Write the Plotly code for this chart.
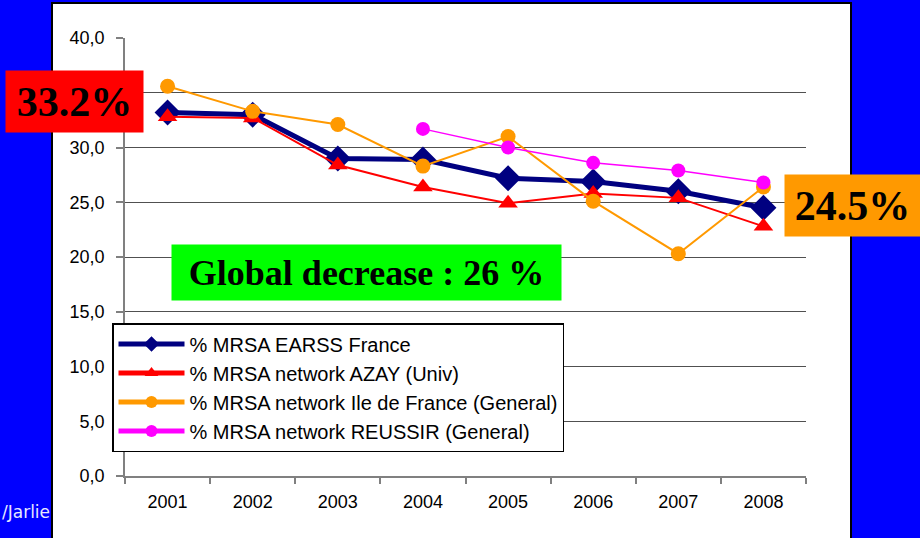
import plotly.graph_objects as go

years = ["2001", "2002", "2003", "2004", "2005", "2006", "2007", "2008"]
earss = [33.2, 33.0, 29.0, 28.9, 27.2, 26.9, 26.0, 24.5]
azay = [32.8, 32.7, 28.4, 26.4, 24.9, 25.8, 25.4, 22.8]
idf = [35.6, 33.3, 32.1, 28.3, 31.0, 25.1, 20.3, 26.4]
reussir = [None, None, None, 31.7, 30.0, 28.6, 27.9, 26.8]
ytick_vals = [0, 5, 10, 15, 20, 25, 30, 35, 40]
ytick_text = ["0,0", "5,0", "10,0", "15,0", "20,0", "25,0", "30,0", "35,0", "40,0"]

names = ["% MRSA EARSS France", "% MRSA network AZAY (Univ)",
         "% MRSA network Ile de France (General)", "% MRSA network REUSSIR (General)"]

W, H = 920, 538
L, R, T, B = 125, 806, 38, 476


def px(x):
    return (x - L) / (R - L)


def py(y):
    return 1 - (y - T) / (B - T)


fig = go.Figure()
fig.add_trace(go.Scatter(x=years, y=earss, name=names[0], mode="lines+markers",
                         line=dict(color="#000080", width=5),
                         marker=dict(symbol="diamond", size=20, color="#000080")))
fig.add_trace(go.Scatter(x=years, y=azay, name=names[1], mode="lines+markers",
                         line=dict(color="#FF0000", width=2),
                         marker=dict(symbol="triangle-up", size=17, color="#FF0000")))
fig.add_trace(go.Scatter(x=years, y=idf, name=names[2], mode="lines+markers",
                         line=dict(color="#FF9900", width=2),
                         marker=dict(symbol="circle", size=15, color="#FF9900")))
fig.add_trace(go.Scatter(x=years, y=reussir, name=names[3], mode="lines+markers",
                         line=dict(color="#FF00FF", width=1.5),
                         marker=dict(symbol="circle", size=14, color="#FF00FF")))

# white panel
fig.add_shape(type="rect", xref="paper", yref="paper",
              x0=px(52), x1=px(851), y0=py(545), y1=py(3),
              fillcolor="white", line=dict(color="black", width=2), layer="below")

fig.add_annotation(xref="paper", yref="paper", x=px(74.5), y=py(101.5),
                   xanchor="center", yanchor="middle", showarrow=False,
                   text="<b>33.2%</b>", width=137, height=61, borderpad=0,
                   bgcolor="#FF0000",
                   font=dict(family="Liberation Serif", size=42, color="black"))
fig.add_annotation(xref="paper", yref="paper", x=px(852.5), y=py(205.5),
                   xanchor="center", yanchor="middle", showarrow=False,
                   text="<b>24.5%</b>", width=135, height=61, borderpad=0,
                   bgcolor="#FF9900",
                   font=dict(family="Liberation Serif", size=42, color="black"))
fig.add_annotation(xref="paper", yref="paper", x=px(366.5), y=py(272.5),
                   xanchor="center", yanchor="middle", showarrow=False,
                   text="<b>Global decrease : 26 %</b>", width=389, height=55, borderpad=0,
                   bgcolor="#00FF00",
                   font=dict(family="Liberation Serif", size=36, color="black"))
fig.add_annotation(xref="paper", yref="paper", x=px(52), y=py(512),
                   xanchor="right", yanchor="middle", showarrow=False,
                   text="/Jarlie",
                   font=dict(family="DejaVu Sans", size=17, color="#E8E8FF"))

fig.update_layout(
    width=W, height=H,
    margin=dict(l=L, r=W - R, t=T, b=H - B, pad=0),
    paper_bgcolor="#0000FF",
    plot_bgcolor="white",
    font=dict(family="Liberation Sans", size=17, color="black"),
    showlegend=True,
    legend=dict(x=px(112), y=py(323), xanchor="left", yanchor="top",
                bgcolor="white", bordercolor="black", borderwidth=1.5,
                font=dict(family="Liberation Sans", size=20, color="black"),
                itemsizing="constant", itemwidth=66, tracegroupgap=0),
    xaxis=dict(type="category", range=[-0.5, 7.5], showgrid=False,
               showline=True, linecolor="#808080", linewidth=1.5,
               ticks="outside", ticklen=6, tickcolor="#808080", tickwidth=1.5,
               tickson="boundaries", ticklabelstandoff=9,
               tickfont=dict(size=18), fixedrange=True),
    yaxis=dict(range=[0, 40], tickvals=ytick_vals, ticktext=ytick_text,
               showgrid=True, gridcolor="#505050", gridwidth=1.3,
               showline=True, linecolor="#808080", linewidth=1.5,
               ticks="outside", ticklen=7, tickcolor="#808080", tickwidth=1.5,
               ticklabelstandoff=8, zeroline=False,
               tickfont=dict(size=18), fixedrange=True),
)

fig.write_html("out.html", config={"displayModeBar": False},
               post_script="document.body.style.margin='0';document.body.style.overflow='hidden';")
